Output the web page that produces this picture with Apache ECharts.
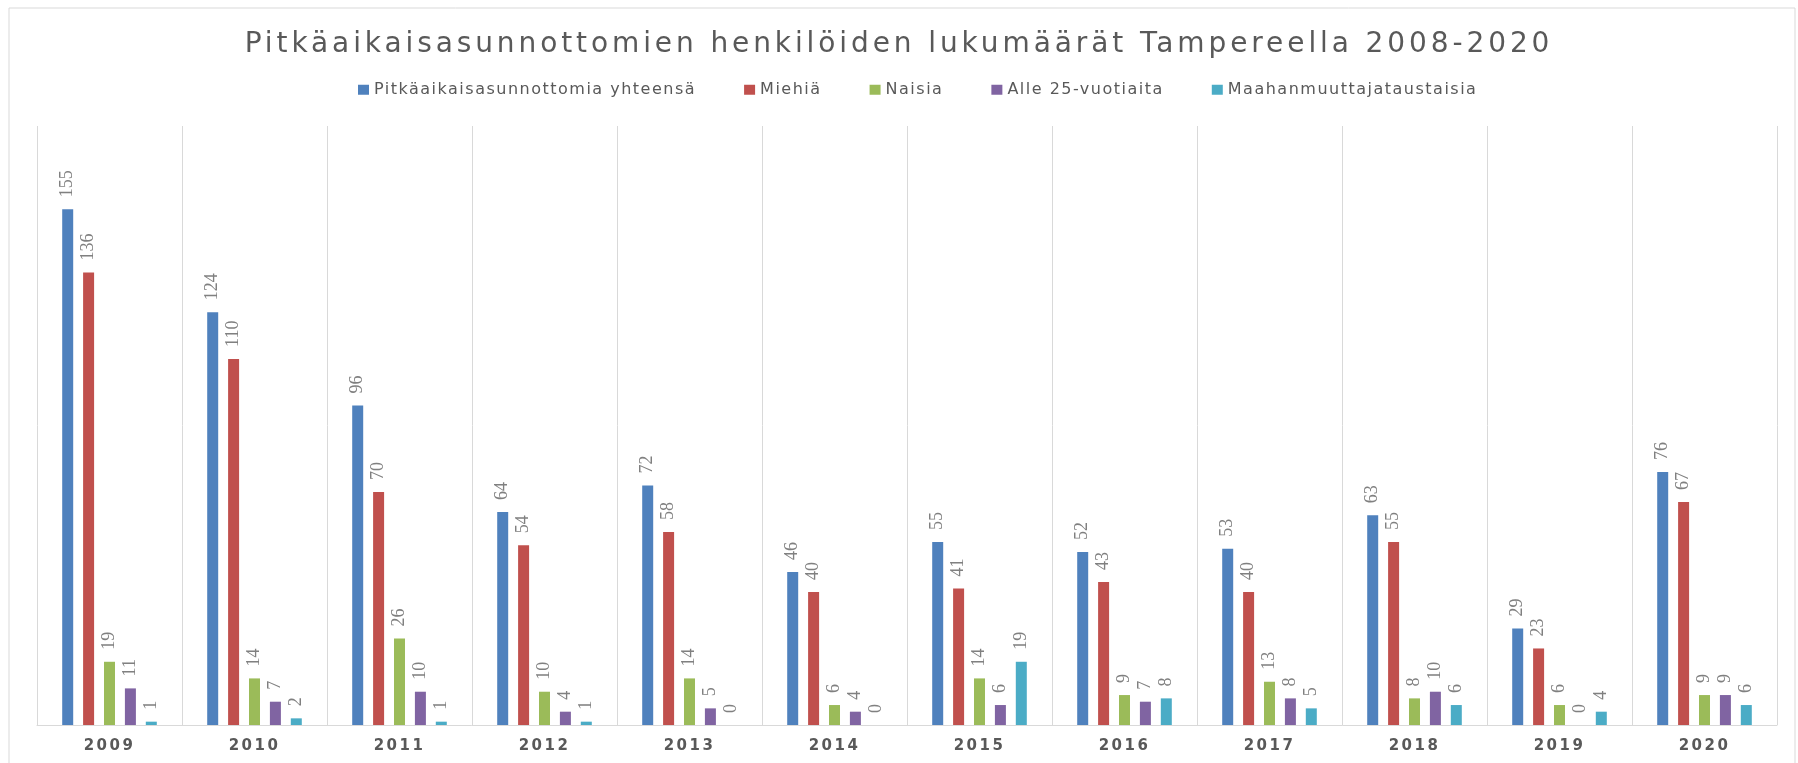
<!DOCTYPE html>
<html>
<head>
<meta charset="utf-8">
<script src="https://cdn.jsdelivr.net/npm/echarts@6/dist/echarts.min.js"></script>
<style>
  html, body { margin: 0; padding: 0; background: #fff; }
  #main { width: 1798px; height: 763px; }
</style>
</head>
<body>
<div id="main"></div>
<script>
// vuodet ja sarjat
var years = ['2009', '2010', '2011', '2012', '2013', '2014', '2015', '2016', '2017', '2018', '2019', '2020'];
var yhteensa = [155, 124, 96, 64, 72, 46, 55, 52, 53, 63, 29, 76];
var miehia = [136, 110, 70, 54, 58, 40, 41, 43, 40, 55, 23, 67];
var naisia = [19, 14, 26, 10, 14, 6, 14, 9, 13, 8, 6, 9];
var alle25 = [11, 7, 10, 4, 5, 4, 6, 7, 8, 10, 0, 9];
var maahanmuuttajat = [1, 2, 1, 1, 0, 0, 19, 8, 5, 6, 4, 6];

var seriesNames = ['Pitkäaikaisasunnottomia yhteensä', 'Miehiä', 'Naisia', 'Alle 25-vuotiaita', 'Maahanmuuttajataustaisia'];
var seriesData = [yhteensa, miehia, naisia, alle25, maahanmuuttajat];
var colors = ['#4F81BD', '#C0504D', '#9BBB59', '#8064A2', '#4BACC6'];

// Excel-tyylinen harvennettu teksti: kirjainväli fontin koon mukaan
var spacing = { '28px': '3.9px', '16px': '1.5px', '15px': '2.5px' };
var fontDesc = Object.getOwnPropertyDescriptor(CanvasRenderingContext2D.prototype, 'font');
Object.defineProperty(CanvasRenderingContext2D.prototype, 'font', {
    get: function () { return fontDesc.get.call(this); },
    set: function (v) {
        fontDesc.set.call(this, v);
        var m = /(\d+)px/.exec(v || '');
        var ls = (m && v.indexOf('DejaVu') >= 0 && spacing[m[1] + 'px']) || '0px';
        try { this.letterSpacing = ls; } catch (e) {}
    },
    configurable: true
});

var myChart = echarts.init(document.getElementById('main'));

myChart.setOption({
    color: colors,
    animation: false,
    title: {
        text: 'Pitkäaikaisasunnottomien henkilöiden lukumäärät Tampereella 2008-2020',
        left: 'center',
        top: 24,
        textStyle: { fontFamily: 'DejaVu Sans', fontSize: 28, fontWeight: 'normal', color: '#595959' }
    },
    legend: {
        data: seriesNames,
        top: 76,
        left: 353,
        itemWidth: 11,
        itemHeight: 10,
        itemGap: 48,
        icon: 'rect',
        textStyle: { fontFamily: 'DejaVu Sans', fontSize: 16, color: '#595959' }
    },
    graphic: [{
        type: 'rect',
        shape: { x: 9, y: 8, width: 1786, height: 800 },
        style: { fill: 'none', stroke: '#d9d9d9', lineWidth: 1 },
        silent: true
    }],
    grid: { left: 37, right: 21, top: 126, bottom: 38 },
    xAxis: {
        type: 'category',
        data: years,
        axisLine: { lineStyle: { color: '#d9d9d9' } },
        axisTick: { show: false },
        splitLine: { show: true, lineStyle: { color: '#d9d9d9' } },
        axisLabel: { fontFamily: 'DejaVu Sans', fontSize: 15, fontWeight: 'bold', color: '#595959', margin: 12 }
    },
    yAxis: {
        type: 'value',
        min: 0,
        max: 180,
        show: false,
        splitLine: { show: false }
    },
    series: seriesData.map(function (d, i) {
        return {
            name: seriesNames[i],
            type: 'bar',
            data: d,
            barWidth: 11,
            barGap: '90%',
            label: {
                show: true,
                position: 'top',
                rotate: 90,
                align: 'left',
                verticalAlign: 'middle',
                distance: 12,
                fontFamily: 'Liberation Sans Narrow',
                fontSize: 18,
                color: '#808080'
            }
        };
    })
});
</script>
</body>
</html>
